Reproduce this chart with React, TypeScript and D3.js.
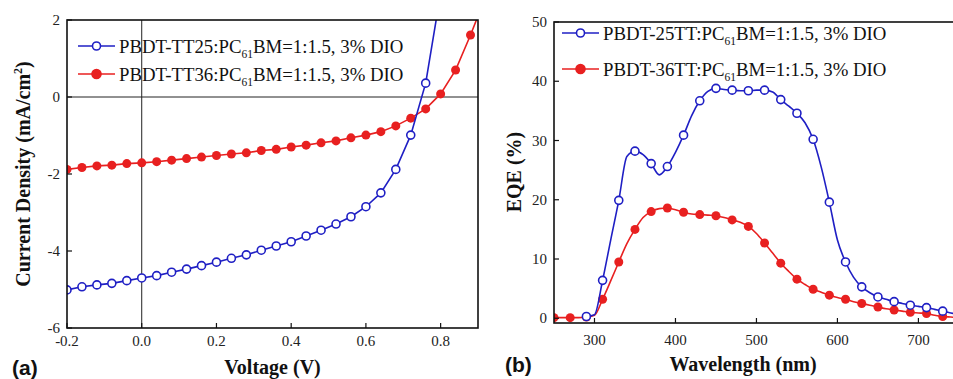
import React from 'react';
import * as d3 from 'd3';

// (a) J-V curves
const voltage = [-0.2, -0.16, -0.12, -0.08, -0.04, 0, 0.04, 0.08, 0.12, 0.16, 0.2, 0.24, 0.28, 0.32, 0.36, 0.4, 0.44, 0.48, 0.52, 0.56, 0.6, 0.64, 0.68, 0.72, 0.76, 0.8, 0.84, 0.88, 0.92];
const jTT25 = [-5.01, -4.93, -4.88, -4.84, -4.77, -4.7, -4.64, -4.55, -4.47, -4.38, -4.29, -4.19, -4.1, -3.98, -3.87, -3.76, -3.61, -3.46, -3.3, -3.11, -2.85, -2.49, -1.88, -0.99, 0.36, 2.7];
const jTT36 = [-1.88, -1.83, -1.79, -1.77, -1.73, -1.71, -1.68, -1.64, -1.6, -1.56, -1.52, -1.48, -1.45, -1.39, -1.36, -1.3, -1.25, -1.19, -1.14, -1.06, -0.99, -0.9, -0.75, -0.55, -0.31, 0.08, 0.7, 1.61, 2.6];
const vTicks = [-0.2, 0, 0.2, 0.4, 0.6, 0.8];
const vTickLabels = ['-0.2', '0.0', '0.2', '0.4', '0.6', '0.8'];
const jTicks = [-6, -4, -2, 0, 2];
const jTickLabels = ['-6', '-4', '-2', '0', '2'];

// (b) EQE spectra
const wavelength = [250, 260, 270, 280, 290, 300, 310, 320, 330, 340, 350, 360, 370, 380, 390, 400, 410, 420, 430, 440, 450, 460, 470, 480, 490, 500, 510, 520, 530, 540, 550, 560, 570, 580, 590, 600, 610, 620, 630, 640, 650, 660, 670, 680, 690, 700, 710, 720, 730, 740, 750];
const eqe25 = [null, null, null, null, 0.3, 0.6, 6.4, 13.2, 19.9, 27.3, 28.2, 27.6, 26.1, 24.2, 25.6, 28.0, 30.9, 34.2, 36.7, 38.3, 38.8, 38.6, 38.5, 38.4, 38.4, 38.5, 38.5, 38.2, 36.9, 35.8, 34.6, 33.0, 30.2, 25.5, 19.6, 13.2, 9.5, 6.9, 5.3, 4.3, 3.6, 3.2, 2.8, 2.5, 2.2, 2.0, 1.8, 1.5, 1.2, 0.9, 0.6];
const eqe36 = [0.1, 0.1, 0.1, 0.1, 0.2, 0.5, 3.2, 6.3, 9.5, 12.6, 15.0, 17.0, 18.0, 18.5, 18.6, 18.3, 17.9, 17.6, 17.5, 17.4, 17.3, 17.0, 16.6, 16.2, 15.5, 14.3, 12.7, 11.0, 9.3, 7.9, 6.6, 5.7, 4.9, 4.4, 3.9, 3.5, 3.2, 2.8, 2.5, 2.2, 1.9, 1.6, 1.4, 1.2, 1.0, 0.9, 0.8, 0.5, 0.3, 0.2, 0.1];
const wTicks = [300, 400, 500, 600, 700];
const eTicks = [0, 10, 20, 30, 40, 50];

const BLUE = '#1f1fc4';
const RED = '#e82020';
const serif = '"Liberation Serif", "Times New Roman", serif';

type Pt = [number, number];

const Legend: React.FC<{ x: number; y: number; color: string; open: boolean; name: string }> = ({ x, y, color, open, name }) => (
  <g>
    <line x1={x} x2={x + 37} y1={y} y2={y} stroke={color} strokeWidth={1.6} />
    <circle cx={x + 18.5} cy={y} r={open ? 4 : 4.5} fill={open ? '#fff' : color} stroke={color} strokeWidth={1.6} />
    <text x={x + 41} y={y + 7} fontFamily={serif} fontSize={18.8} fill="#111">
      {name}:PC<tspan fontSize={11.5} dy={5}>61</tspan>
      <tspan dy={-5}>BM=1:1.5, 3% DIO</tspan>
    </text>
  </g>
);

export default function App() {
  // panel (a)
  const xV = d3.scaleLinear().domain([-0.2, 0.9]).range([67, 478]);
  const yJ = d3.scaleLinear().domain([-6, 2]).range([328, 20]);
  // panel (b)
  const xW = d3.scaleLinear().domain([250, 760]).range([554, 967]);
  const yE = d3.scaleLinear().domain([-0.8, 50]).range([323, 22]);

  const lineA = d3.line<Pt>().x((d) => xV(d[0])).y((d) => yJ(d[1]));
  const lineB = d3
    .line<Pt>()
    .x((d) => xW(d[0]))
    .y((d) => yE(d[1]))
    .curve(d3.curveMonotoneX);

  const ptsA25: Pt[] = jTT25.map((j, i) => [voltage[i], j]);
  const ptsA36: Pt[] = jTT36.map((j, i) => [voltage[i], j]);
  const ptsB25: Pt[] = [];
  const mkB25: Pt[] = [];
  eqe25.forEach((e, i) => {
    if (e == null) return;
    ptsB25.push([wavelength[i], e]);
    if (i % 2 === 0) mkB25.push([wavelength[i], e]);
  });
  const ptsB36: Pt[] = eqe36.map((e, i) => [wavelength[i], e]);
  const mkB36 = ptsB36.filter((_, i) => i % 2 === 0);

  const [ax0, ax1] = xV.range();
  const [ay1, ay0] = yJ.range();
  const [bx0, bx1] = xW.range();
  const [by1, by0] = yE.range();

  return (
    <svg width={953} height={379} style={{ position: 'absolute', left: 0, top: 0, background: '#fff' }}>
      <defs>
        <clipPath id="clipA">
          <rect x={ax0} y={ay0} width={ax1 - ax0} height={ay1 - ay0} />
        </clipPath>
        <clipPath id="clipB">
          <rect x={bx0} y={by0} width={bx1 - bx0} height={by1 - by0} />
        </clipPath>
      </defs>

      {/* ---------- panel (a) ---------- */}
      <line x1={ax0} x2={ax1} y1={yJ(0)} y2={yJ(0)} stroke="#222" strokeWidth={1} />
      <line x1={xV(0)} x2={xV(0)} y1={ay0} y2={ay1} stroke="#222" strokeWidth={1} />
      <g clipPath="url(#clipA)">
        <path d={lineA(ptsA36) || ''} fill="none" stroke={RED} strokeWidth={1.6} />
        {ptsA36.map((d, i) => (
          <circle key={'r' + i} cx={xV(d[0])} cy={yJ(d[1])} r={4.5} fill={RED} />
        ))}
        <path d={lineA(ptsA25) || ''} fill="none" stroke={BLUE} strokeWidth={1.6} />
        {ptsA25.map((d, i) => (
          <circle key={'b' + i} cx={xV(d[0])} cy={yJ(d[1])} r={4} fill="#fff" stroke={BLUE} strokeWidth={1.6} />
        ))}
      </g>
      <rect x={ax0} y={ay0} width={ax1 - ax0} height={ay1 - ay0} fill="none" stroke="#111" strokeWidth={1.6} />
      {vTicks.map((t, i) => (
        <g key={'vt' + i}>
          <line x1={xV(t)} x2={xV(t)} y1={ay1} y2={ay1 - 5} stroke="#111" strokeWidth={1.2} />
          <text x={xV(t)} y={346} textAnchor="middle" fontFamily={serif} fontSize={15} fill="#222">
            {vTickLabels[i]}
          </text>
        </g>
      ))}
      {jTicks.map((t, i) => (
        <g key={'jt' + i}>
          <line x1={ax0} x2={ax0 + 5} y1={yJ(t)} y2={yJ(t)} stroke="#111" strokeWidth={1.2} />
          <text x={ax0 - 7} y={yJ(t) + 5} textAnchor="end" fontFamily={serif} fontSize={15} fill="#222">
            {jTickLabels[i]}
          </text>
        </g>
      ))}
      <text x={(ax0 + ax1) / 2} y={374} textAnchor="middle" fontFamily={serif} fontSize={20} fontWeight="bold" fill="#111">
        Voltage (V)
      </text>
      <text
        transform={`translate(30,${(ay0 + ay1) / 2}) rotate(-90)`}
        textAnchor="middle"
        fontFamily={serif}
        fontSize={20}
        fontWeight="bold"
        fill="#111"
      >
        Current Density (mA/cm<tspan fontSize={12} dy={-8}>2</tspan>
        <tspan dy={8}>)</tspan>
      </text>
      <Legend x={78} y={46} color={BLUE} open={true} name="PBDT-TT25" />
      <Legend x={78} y={74} color={RED} open={false} name="PBDT-TT36" />
      <text x={12} y={375} fontFamily='"Liberation Sans", Arial, sans-serif' fontSize={21} fontWeight="bold" fill="#111">
        (a)
      </text>

      {/* ---------- panel (b) ---------- */}
      <g clipPath="url(#clipB)">
        <path d={lineB(ptsB36) || ''} fill="none" stroke={RED} strokeWidth={1.6} />
        {mkB36.map((d, i) => (
          <circle key={'er' + i} cx={xW(d[0])} cy={yE(d[1])} r={4.5} fill={RED} />
        ))}
        <path d={lineB(ptsB25) || ''} fill="none" stroke={BLUE} strokeWidth={1.6} />
        {mkB25.map((d, i) => (
          <circle key={'eb' + i} cx={xW(d[0])} cy={yE(d[1])} r={4} fill="#fff" stroke={BLUE} strokeWidth={1.6} />
        ))}
      </g>
      <rect x={bx0} y={by0} width={bx1 - bx0} height={by1 - by0} fill="none" stroke="#111" strokeWidth={1.6} />
      {wTicks.map((t) => (
        <g key={'wt' + t}>
          <line x1={xW(t)} x2={xW(t)} y1={by1} y2={by1 - 5} stroke="#111" strokeWidth={1.2} />
          <text x={xW(t)} y={345} textAnchor="middle" fontFamily={serif} fontSize={15} fill="#222">
            {t}
          </text>
        </g>
      ))}
      {eTicks.map((t) => (
        <g key={'et' + t}>
          <line x1={bx0} x2={bx0 + 5} y1={yE(t)} y2={yE(t)} stroke="#111" strokeWidth={1.2} />
          <text x={bx0 - 7} y={yE(t) + 5} textAnchor="end" fontFamily={serif} fontSize={15} fill="#222">
            {t}
          </text>
        </g>
      ))}
      <text x={743} y={371} textAnchor="middle" fontFamily={serif} fontSize={20} fontWeight="bold" fill="#111">
        Wavelength (nm)
      </text>
      <text
        transform={`translate(521,172) rotate(-90)`}
        textAnchor="middle"
        fontFamily={serif}
        fontSize={20}
        fontWeight="bold"
        fill="#111"
      >
        EQE (%)
      </text>
      <Legend x={562} y={33} color={BLUE} open={true} name="PBDT-25TT" />
      <Legend x={562} y={69} color={RED} open={false} name="PBDT-36TT" />
      <text x={505} y={372} fontFamily='"Liberation Sans", Arial, sans-serif' fontSize={21} fontWeight="bold" fill="#111">
        (b)
      </text>
    </svg>
  );
}
